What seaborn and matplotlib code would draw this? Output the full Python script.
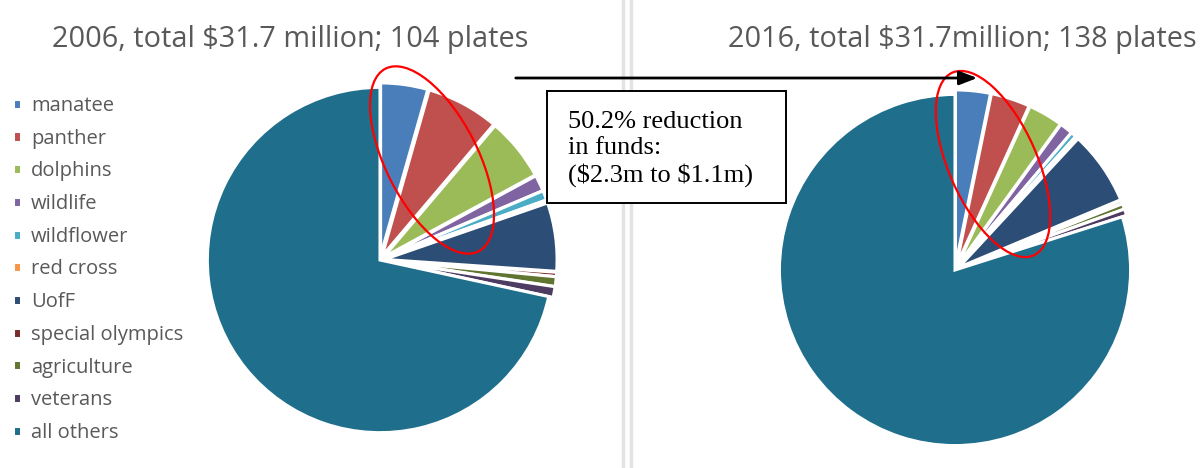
import matplotlib
matplotlib.use('Agg')
import numpy as np
import seaborn as sns
import matplotlib.pyplot as plt
from matplotlib.patches import Ellipse, Rectangle
from matplotlib.lines import Line2D

sns.set_theme(style="white")
plt.rcParams['font.family'] = ['Open Sans', 'DejaVu Sans']

# plate categories and their share of funds (percent)
plates = ["manatee", "panther", "dolphins", "wildlife", "wildflower", "red cross",
          "UofF", "special olympics", "agriculture", "veterans", "all others"]
share_2006 = [4.4, 6.8, 5.9, 1.5, 0.9, 0.2, 6.4, 0.4, 0.9, 1.0, 71.6]
share_2016 = [3.2, 3.6, 3.2, 1.2, 0.5, 0.2, 6.8, 0.3, 0.5, 0.6, 79.9]
colors = ["#4a7ebb", "#c0504d", "#9bbb59", "#8064a2", "#4bacc6", "#f79646",
          "#2c4d75", "#772c2a", "#5f7530", "#4d3b62", "#1f6f8c"]

title_2006 = r"2006, total \$31.7 million; 104 plates"
title_2016 = r"2016, total \$31.7million; 138 plates"
note = "50.2% reduction\nin funds:\n(\\$2.3m to \\$1.1m)"

W, H = 1204, 468
fig = plt.figure(figsize=(W / 100, H / 100), dpi=100)
fig.patch.set_facecolor("white")


def pie_axes(cx, cy, r, values):
    ax = fig.add_axes([(cx - r) / W, (H - cy - r) / H, 2 * r / W, 2 * r / H])
    explode = [0.025] * (len(values) - 1) + [0]
    wedges, _ = ax.pie(values, colors=colors, startangle=90, counterclock=False,
                       explode=explode, radius=0.97,
                       wedgeprops=dict(edgecolor="white", linewidth=2.2))
    ax.set_xlim(-1, 1)
    ax.set_ylim(-1, 1)
    ax.set_aspect("equal")
    ax.axis("off")
    return wedges


wedges = pie_axes(380, 260, 178, share_2006)
pie_axes(955, 270, 181, share_2016)

# overlay in pixel coordinates for the annotations
ov = fig.add_axes([0, 0, 1, 1], zorder=5)
ov.set_xlim(0, W)
ov.set_ylim(H, 0)
ov.axis("off")
ov.patch.set_alpha(0)

ov.text(290, 40, title_2006, ha="center", va="center", fontsize=20.8, color="#595959")
ov.text(962, 40, title_2016, ha="center", va="center", fontsize=20.8, color="#595959")

for x in (623, 631):
    ov.add_line(Line2D([x, x], [0, H], color="#e3e3e3", lw=2.5, zorder=0))

ov.add_patch(Ellipse((432, 160), 92, 205, angle=-27, fill=False, edgecolor="#ff0000", lw=1.6))
ov.add_patch(Ellipse((993, 164), 88, 200, angle=-24, fill=False, edgecolor="#ff0000", lw=1.6))

ov.annotate("", xy=(980, 78), xytext=(513, 78),
            arrowprops=dict(arrowstyle="-|>,head_length=0.9,head_width=0.35",
                            color="black", lw=2))

ov.add_patch(Rectangle((547, 91), 239, 112, fill=True, facecolor="white",
                       edgecolor="black", lw=1.4))
ov.text(568, 149, note, ha="left", va="center", fontsize=19, color="black",
        family="Liberation Serif", linespacing=1.2)

fig.legend(wedges, plates, loc="upper left", bbox_to_anchor=(5 / W, 1 - 88 / H),
           frameon=False, fontsize=14.5, labelcolor="#595959",
           handlelength=0.4, handleheight=0.4, handletextpad=0.5,
           labelspacing=0.63, borderaxespad=0)

fig.savefig("out.png", dpi=100, facecolor="white")
